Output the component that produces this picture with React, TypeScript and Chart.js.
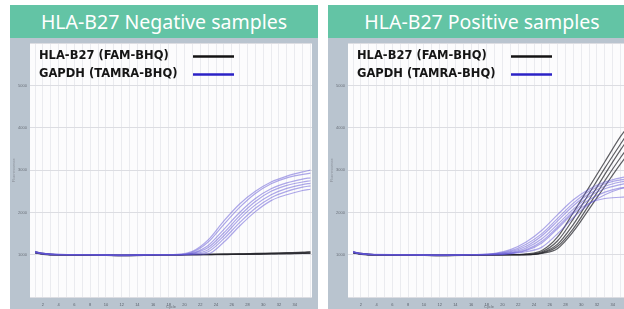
import React, { useEffect, useRef } from "react";
import { Chart, registerables } from "chart.js";

Chart.register(...registerables);

// ---------- data ----------
const CYCLES = [1, 2, 4, 8, 12, 16, 19, 21, 23, 25, 27, 29, 31, 33, 35, 36];
const X_GRID = [1, 2, 3, 4, 5, 6, 7, 8, 9, 10, 11, 12, 13, 14, 15, 16, 17, 18, 19, 20, 21, 22, 23, 24, 25, 26, 27, 28, 29, 30, 31, 32, 33, 34, 35, 36];
const X_LABELS = [2, 4, 6, 8, 10, 12, 14, 16, 18, 20, 22, 24, 26, 28, 30, 32, 34];
const Y_TICKS = [0, 1, 2, 3, 4, 5, 6];
const Y_LABELS = [1, 2, 3, 4, 5];

const LEGEND_LABELS = ["HLA-B27 (FAM-BHQ)", "GAPDH (TAMRA-BHQ)"];
const PANEL_TITLES = ["HLA-B27 Negative samples", "HLA-B27 Positive samples"];

// Negative samples – GAPDH (TAMRA)
const NEG_GAPDH_1 = [1.07, 1.03, 1.0, 1.0, 0.99, 1.0, 1.01, 1.08, 1.35, 1.8, 2.2, 2.5, 2.72, 2.86, 2.96, 3.0];
const NEG_GAPDH_2 = [1.06, 1.02, 1.0, 1.0, 0.99, 1.0, 1.0, 1.06, 1.3, 1.72, 2.12, 2.45, 2.68, 2.82, 2.9, 2.93];
const NEG_GAPDH_3 = [1.05, 1.03, 1.01, 1.0, 0.98, 1.0, 1.0, 1.04, 1.22, 1.6, 2.0, 2.33, 2.56, 2.7, 2.79, 2.82];
const NEG_GAPDH_4 = [1.08, 1.02, 1.0, 0.99, 0.99, 1.0, 1.0, 1.03, 1.17, 1.52, 1.92, 2.26, 2.5, 2.64, 2.72, 2.75];
const NEG_GAPDH_5 = [1.06, 1.03, 1.0, 1.0, 0.98, 0.99, 1.0, 1.02, 1.12, 1.45, 1.85, 2.18, 2.42, 2.57, 2.66, 2.69];
const NEG_GAPDH_6 = [1.05, 1.02, 1.0, 1.0, 0.99, 1.0, 1.0, 1.01, 1.07, 1.38, 1.76, 2.1, 2.35, 2.5, 2.6, 2.63];
const NEG_GAPDH_7 = [1.07, 1.03, 1.01, 1.0, 0.99, 1.0, 1.0, 1.0, 1.02, 1.3, 1.68, 2.02, 2.28, 2.42, 2.52, 2.55];

// Negative samples – HLA-B27 (FAM)
const NEG_HLA_1 = [1.07, 1.03, 1.0, 1.0, 0.99, 1.0, 1.0, 1.01, 1.01, 1.01, 1.02, 1.02, 1.03, 1.04, 1.05, 1.06];
const NEG_HLA_2 = [1.05, 1.02, 1.0, 0.99, 0.99, 1.0, 1.0, 1.0, 1.0, 1.01, 1.01, 1.02, 1.02, 1.03, 1.03, 1.04];
const NEG_HLA_3 = [1.06, 1.02, 1.0, 1.0, 0.98, 0.99, 1.0, 1.0, 1.01, 1.02, 1.02, 1.03, 1.04, 1.05, 1.06, 1.07];
const NEG_HLA_4 = [1.04, 1.01, 0.99, 0.99, 0.98, 0.99, 0.99, 1.0, 1.0, 1.0, 1.01, 1.01, 1.02, 1.02, 1.03, 1.03];

// Positive samples – GAPDH (TAMRA)
const POS_GAPDH_1 = [1.07, 1.03, 1.0, 1.0, 0.99, 1.0, 1.03, 1.12, 1.3, 1.58, 1.95, 2.3, 2.55, 2.72, 2.82, 2.85];
const POS_GAPDH_2 = [1.06, 1.02, 1.0, 1.0, 0.99, 1.0, 1.02, 1.09, 1.25, 1.5, 1.86, 2.22, 2.5, 2.68, 2.77, 2.8];
const POS_GAPDH_3 = [1.05, 1.03, 1.0, 0.99, 0.99, 1.0, 1.02, 1.07, 1.2, 1.45, 1.8, 2.16, 2.44, 2.62, 2.72, 2.75];
const POS_GAPDH_4 = [1.08, 1.02, 1.01, 1.0, 0.98, 1.0, 1.01, 1.05, 1.16, 1.38, 1.72, 2.08, 2.38, 2.56, 2.66, 2.7];
const POS_GAPDH_5 = [1.06, 1.02, 1.0, 1.0, 0.99, 1.0, 1.01, 1.04, 1.12, 1.32, 1.66, 2.02, 2.3, 2.48, 2.58, 2.6];
const POS_GAPDH_6 = [1.05, 1.03, 1.0, 1.0, 0.99, 1.0, 1.0, 1.03, 1.1, 1.28, 1.62, 1.98, 2.22, 2.33, 2.36, 2.37];
const POS_GAPDH_7 = [1.07, 1.02, 1.0, 0.99, 0.99, 1.0, 1.0, 1.02, 1.07, 1.18, 1.5, 1.88, 2.2, 2.42, 2.56, 2.6];

// Positive samples – HLA-B27 (FAM)
const POS_HLA_1 = [1.06, 1.02, 1.0, 1.0, 0.99, 1.0, 1.0, 1.0, 1.02, 1.1, 1.42, 2.0, 2.6, 3.2, 3.8, 4.05];
const POS_HLA_2 = [1.05, 1.02, 1.0, 0.99, 0.99, 1.0, 1.0, 1.0, 1.01, 1.07, 1.33, 1.85, 2.45, 3.05, 3.62, 3.9];
const POS_HLA_3 = [1.06, 1.03, 1.0, 1.0, 0.98, 0.99, 1.0, 1.0, 1.0, 1.05, 1.25, 1.72, 2.3, 2.9, 3.48, 3.75];
const POS_HLA_4 = [1.04, 1.01, 0.99, 0.99, 0.98, 0.99, 0.99, 1.0, 1.0, 1.04, 1.2, 1.62, 2.18, 2.75, 3.3, 3.55];
const POS_HLA_5 = [1.05, 1.02, 1.0, 1.0, 0.99, 1.0, 1.0, 1.0, 1.0, 1.03, 1.15, 1.55, 2.08, 2.62, 3.15, 3.4];

const NEG_GAPDH = [NEG_GAPDH_1, NEG_GAPDH_2, NEG_GAPDH_3, NEG_GAPDH_4, NEG_GAPDH_5, NEG_GAPDH_6, NEG_GAPDH_7];
const NEG_HLA = [NEG_HLA_1, NEG_HLA_2, NEG_HLA_3, NEG_HLA_4];
const POS_GAPDH = [POS_GAPDH_1, POS_GAPDH_2, POS_GAPDH_3, POS_GAPDH_4, POS_GAPDH_5, POS_GAPDH_6, POS_GAPDH_7];
const POS_HLA = [POS_HLA_1, POS_HLA_2, POS_HLA_3, POS_HLA_4, POS_HLA_5];

// ---------- styles ----------
const HEADER_BG = "#63c4a5";
const FRAME_BG = "#b9c4cf";
const GAPDH_LINE = "rgba(96, 84, 214, 0.5)";
const HLA_LINE = "rgba(35, 35, 40, 0.72)";
const LEGEND_COLORS = ["#141414", "#2b22c6"];
const TICK_FONT = "'Liberation Sans', Arial, sans-serif";

const plotBg = {
  id: "plotBg",
  beforeDraw(chart: any) {
    const { ctx, chartArea: a } = chart;
    ctx.save();
    ctx.fillStyle = "#fcfcfd";
    ctx.fillRect(a.left, a.top, a.right - a.left, a.bottom - a.top);
    ctx.restore();
  },
};

const curveLegend = {
  id: "curveLegend",
  afterDraw(chart: any) {
    const { ctx, chartArea: a } = chart;
    ctx.save();
    ctx.font = "bold 11.5px 'DejaVu Sans', Verdana, sans-serif";
    ctx.fillStyle = "#151515";
    ctx.textBaseline = "middle";
    LEGEND_LABELS.forEach((label, i) => {
      const y = a.top + 13 + i * 18;
      ctx.fillText(label, a.left + 9, y);
      ctx.strokeStyle = LEGEND_COLORS[i];
      ctx.lineWidth = 2.5;
      ctx.beginPath();
      ctx.moveTo(a.left + 163, y);
      ctx.lineTo(a.left + 204, y);
      ctx.stroke();
    });
    ctx.restore();
  },
};

function toPoints(values: number[]) {
  return values.map((v, i) => ({ x: CYCLES[i], y: v }));
}

function Panel({ left, title, gapdh, hla }: { left: number; title: string; gapdh: number[][]; hla: number[][] }) {
  const ref = useRef<HTMLCanvasElement | null>(null);
  useEffect(() => {
    if (!ref.current) return;
    const datasets: any[] = [
      ...gapdh.map((s) => ({
        label: LEGEND_LABELS[1],
        data: toPoints(s),
        borderColor: GAPDH_LINE,
        borderWidth: 1.2,
        pointRadius: 0,
        cubicInterpolationMode: "monotone",
      })),
      ...hla.map((s) => ({
        label: LEGEND_LABELS[0],
        data: toPoints(s),
        borderColor: HLA_LINE,
        borderWidth: 1.2,
        pointRadius: 0,
        cubicInterpolationMode: "monotone",
      })),
    ];
    const chart = new Chart(ref.current, {
      type: "line",
      data: { datasets },
      plugins: [plotBg, curveLegend],
      options: {
        animation: false,
        responsive: false,
        events: [],
        layout: { padding: { left: 0, right: 6, top: 2, bottom: 0 } },
        plugins: { legend: { display: false }, tooltip: { enabled: false } },
        scales: {
          x: {
            type: "linear",
            min: 0.35,
            max: 36.2,
            afterBuildTicks: (s: any) => {
              s.ticks = X_GRID.map((v) => ({ value: v }));
            },
            afterFit: (s: any) => {
              s.height = 12;
            },
            border: { display: false },
            grid: { color: "#eaebef", lineWidth: 1, drawTicks: false },
            ticks: {
              autoSkip: false,
              maxRotation: 0,
              padding: 5,
              color: "#5a606a",
              font: { size: 4, family: TICK_FONT },
              callback: (v: any) => (X_LABELS.includes(Number(v)) ? String(v) : ""),
            },
            title: {
              display: true,
              text: "Cycle",
              color: "#6a6f78",
              padding: 0,
              font: { size: 4, family: TICK_FONT },
            },
          },
          y: {
            type: "linear",
            min: 0,
            max: 6,
            afterBuildTicks: (s: any) => {
              s.ticks = Y_TICKS.map((v) => ({ value: v }));
            },
            afterFit: (s: any) => {
              s.width = 20;
            },
            border: { display: false },
            grid: { color: "#dcdde2", lineWidth: 1, drawTicks: false },
            ticks: {
              padding: 3,
              color: "#6a707a",
              font: { size: 4, family: TICK_FONT },
              callback: (v: any) => (Y_LABELS.includes(Number(v)) ? String(v * 1000) : ""),
            },
            title: {
              display: true,
              text: "Fluorescence",
              color: "#8a909a",
              padding: 1,
              font: { size: 4, family: TICK_FONT },
            },
          },
        },
      },
    } as any);
    return () => chart.destroy();
  }, [gapdh, hla]);

  return (
    <div style={{ position: "absolute", left, top: 5, width: 308, height: 304 }}>
      <div
        style={{
          height: 33,
          background: HEADER_BG,
          color: "#ffffff",
          fontFamily: "'Noto Sans', sans-serif",
          fontSize: 19.5,
          lineHeight: "33px",
          textAlign: "center",
          whiteSpace: "nowrap",
        }}
      >
        {title}
      </div>
      <div style={{ width: 308, height: 271, background: FRAME_BG }}>
        <canvas ref={ref} width={308} height={271} style={{ display: "block" }} />
      </div>
    </div>
  );
}

export default function App() {
  return (
    <div
      style={{
        position: "absolute",
        left: 0,
        top: 0,
        width: 624,
        height: 309,
        overflow: "hidden",
        background: "#ffffff",
      }}
    >
      <Panel left={10} title={PANEL_TITLES[0]} gapdh={NEG_GAPDH} hla={NEG_HLA} />
      <Panel left={328} title={PANEL_TITLES[1]} gapdh={POS_GAPDH} hla={POS_HLA} />
    </div>
  );
}
